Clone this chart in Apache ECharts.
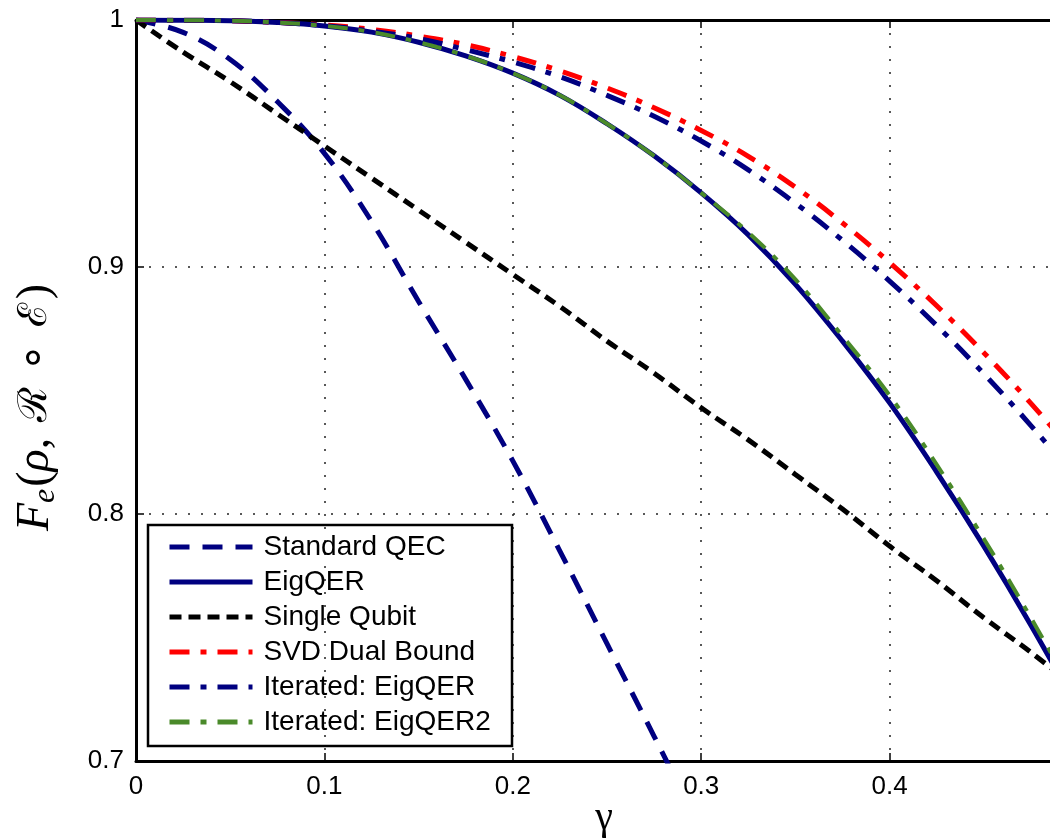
<!DOCTYPE html>
<html>
<head>
<meta charset="utf-8">
<script src="https://cdn.jsdelivr.net/npm/echarts@6/dist/echarts.min.js"></script>
<style>
html,body{margin:0;padding:0;background:#fff;}
#chart{width:1050px;height:839px;}
</style>
</head>
<body>
<div id="chart"></div>
<script>
// ---- data ----
const gamma = [0,0.025,0.05,0.075,0.1,0.125,0.15,0.175,0.2,0.225,0.25,0.275,0.3,0.325,0.35,0.375,0.4,0.425,0.45,0.475,0.5];
const gammaStd = [0,0.025,0.05,0.075,0.1,0.125,0.15,0.175,0.2,0.225,0.25,0.275,0.3];
const stdQEC      = [1,0.995,0.984,0.967,0.946,0.9185,0.886,0.8545,0.8215,0.785,0.7475,0.710,0.672];
const eigQER      = [1,0.9999,0.9997,0.999,0.9976,0.9951,0.991,0.9855,0.9785,0.9695,0.958,0.945,0.930,0.913,0.893,0.870,0.845,0.817,0.787,0.755,0.721];
const singleQubit = [1,0.987,0.975,0.962,0.949,0.936,0.923,0.910,0.897,0.884,0.870,0.857,0.843,0.830,0.816,0.802,0.787,0.773,0.758,0.744,0.729];
const svdDual     = [1,0.9999,0.9997,0.999,0.998,0.9962,0.9935,0.990,0.9852,0.9794,0.9725,0.9645,0.9553,0.9448,0.9323,0.9178,0.9018,0.8843,0.8653,0.8448,0.8228];
const iterEigQER  = [1,0.9999,0.9997,0.999,0.9977,0.9955,0.9925,0.988,0.983,0.977,0.9695,0.961,0.951,0.9393,0.9258,0.9108,0.8943,0.8763,0.8568,0.8358,0.8133];
const iterEigQER2 = [1,0.9999,0.9997,0.999,0.9976,0.9951,0.991,0.9855,0.9785,0.9695,0.958,0.945,0.930,0.914,0.895,0.872,0.848,0.820,0.790,0.758,0.724];
const seriesNames = ['Standard QEC','EigQER','Single Qubit','SVD Dual Bound','Iterated: EigQER','Iterated: EigQER2'];
const xTicks = [0,0.1,0.2,0.3,0.4,0.5];
const yTicks = [0.7,0.8,0.9,1];
const xTitle = 'γ';

const pairs = (xs, ys) => xs.map((x,i)=>[x, ys[i]]);
const navy = '#000080';
const tickFont = 'Liberation Sans';

const chart = echarts.init(document.getElementById('chart'), null, {renderer:'canvas'});
function mk(name, xs, ys, color, width, type){
  return {name, type:'line', data:pairs(xs,ys), showSymbol:false, symbol:'none', smooth:0.4,
    lineStyle:{color, width, type, cap:'butt'}, itemStyle:{color}, emphasis:{disabled:true}, z:2};
}
chart.setOption({
  animation:false,
  backgroundColor:'#fff',
  grid:{left:136, top:20, right:-28, bottom:78, containLabel:false, outerBoundsMode:'none'},
  xAxis:[{
    type:'value', min:0, max:0.5, interval:0.1,
    axisLine:{show:true, onZero:false, lineStyle:{color:'#000', width:3}},
    axisTick:{show:true, inside:true, length:8, lineStyle:{color:'#000', width:1.5}},
    axisLabel:{fontFamily:tickFont, fontSize:26, color:'#000', margin:13,
      formatter:v=>String(+v.toFixed(1))},
    splitLine:{show:true, lineStyle:{color:'#222', width:1.5, type:[2,11]}}
  },{
    type:'value', position:'top', min:0, max:0.5, interval:0.1,
    axisLine:{show:true, onZero:false, lineStyle:{color:'#000', width:3}},
    axisTick:{show:true, inside:true, length:8, lineStyle:{color:'#000', width:1.5}},
    axisLabel:{show:false}, splitLine:{show:false}
  }],
  yAxis:[{
    type:'value', min:0.7, max:1, interval:0.1,
    name:'{i|F}{sub|e}{n|(}{i|ρ}{n|, }{s|ℛ}{n| ∘ }{s|ℰ}{n|)}',
    nameLocation:'middle', nameGap:74, nameRotate:90,
    nameTextStyle:{fontFamily:'Liberation Serif', fontSize:44, color:'#000', padding:[0,34,0,0],
      rich:{
        i:{fontFamily:'Liberation Serif', fontStyle:'italic', fontSize:46, color:'#000'},
        n:{fontFamily:'Liberation Serif', fontSize:46, color:'#000'},
        s:{fontFamily:'DejaVu Serif', fontSize:40, color:'#000', padding:[0,4,0,4]},
        sub:{fontFamily:'Liberation Serif', fontStyle:'italic', fontSize:32, color:'#000', verticalAlign:'bottom', padding:[20,2,0,0]}
      }},
    axisLine:{show:true, onZero:false, lineStyle:{color:'#000', width:3}},
    axisTick:{show:true, inside:true, length:8, lineStyle:{color:'#000', width:1.5}},
    axisLabel:{fontFamily:tickFont, fontSize:26, color:'#000', margin:12,
      formatter:v=>String(+v.toFixed(1))},
    splitLine:{show:true, lineStyle:{color:'#222', width:1.5, type:[2,11]}}
  }],
  legend:{
    data:seriesNames, orient:'vertical', left:167, top:532, padding:0,
    itemWidth:83, itemHeight:14, itemGap:5,
    itemStyle:{opacity:0},
    lineStyle:{width:5},
    textStyle:{fontFamily:tickFont, fontSize:28, color:'#000', lineHeight:30, padding:[0,0,0,6]},
    selectedMode:false
  },
  graphic:[
    {type:'rect', shape:{x:148, y:525, width:364, height:221},
      style:{fill:'none', stroke:'#000', lineWidth:2.5}, z:10, silent:true},
    {type:'text', x:604, y:818, z:10, silent:true,
      style:{text:xTitle, fontFamily:'Liberation Serif', fontSize:40, fill:'#000',
        align:'center', verticalAlign:'middle'}}
  ],
  series:[
    mk(seriesNames[0], gammaStd, stdQEC, navy, 5, [20,13]),
    mk(seriesNames[1], gamma, eigQER, navy, 5, 'solid'),
    mk(seriesNames[2], gamma, singleQubit, '#000', 5, [12,7]),
    mk(seriesNames[3], gamma, svdDual, '#ff0000', 5, [20,11,6,11]),
    mk(seriesNames[4], gamma, iterEigQER, navy, 5, [20,11,6,11]),
    mk(seriesNames[5], gamma, iterEigQER2, '#4a8a2a', 4, [20,11,6,11])
  ]
});
</script>
</body>
</html>
